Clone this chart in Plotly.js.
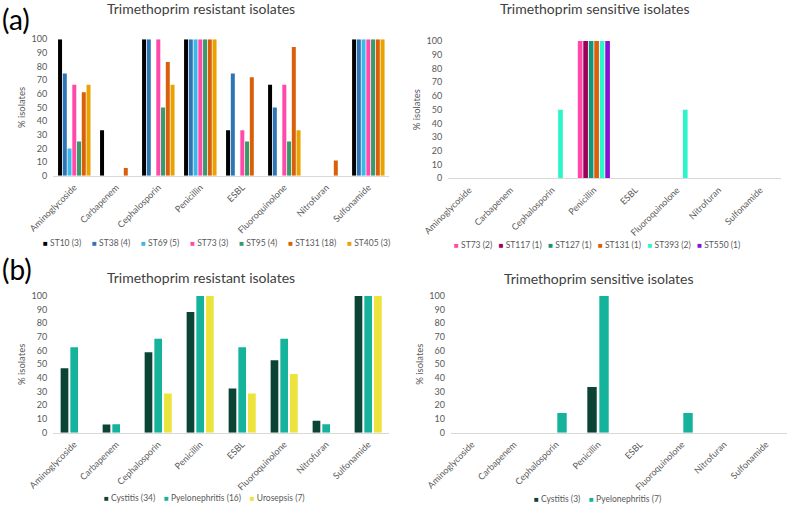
<!DOCTYPE html>
<html>
<head>
<meta charset="utf-8">
<script src="https://cdn.plot.ly/plotly-3.0.1.min.js"></script>
<style>html,body{margin:0;padding:0;background:#fff;}#chart{width:787px;height:505px;}</style>
</head>
<body>
<div id="chart"></div>
<script>
// ---------- data ----------
const categories = ['Aminoglycoside','Carbapenem','Cephalosporin','Penicillin','ESBL','Fluoroquinolone','Nitrofuran','Sulfonamide'];
const yTicks = [0,10,20,30,40,50,60,70,80,90,100];

// (a) Trimethoprim resistant isolates, by sequence type
const aResNames = ['ST10 (3)','ST38 (4)','ST69 (5)','ST73 (3)','ST95 (4)','ST131 (18)','ST405 (3)'];
const aResColors = ['#000000','#2e75b6','#3fb6e8','#ff4aa9','#369a6b','#d95f0b','#e9a200'];
const st10R  = [100, 33.3, 100, 100, 33.3, 66.7, 0, 100];
const st38R  = [75, 0, 100, 100, 75, 50, 0, 100];
const st69R  = [20, 0, 0, 100, 0, 0, 0, 100];
const st73R  = [66.7, 0, 100, 100, 33.3, 66.7, 0, 100];
const st95R  = [25, 0, 50, 100, 25, 25, 0, 100];
const st131R = [61.1, 5.6, 83.3, 100, 72.2, 94.4, 11.1, 100];
const st405R = [66.7, 0, 66.7, 100, 0, 33.3, 0, 100];

// (a) Trimethoprim sensitive isolates, by sequence type
const aSenNames = ['ST73 (2)','ST117 (1)','ST127 (1)','ST131 (1)','ST393 (2)','ST550 (1)'];
const aSenColors = ['#ff4aa9','#9c0058','#14967a','#d95f0b','#2cf5c9','#8b10d4'];
const st73S  = [0, 0, 0, 100, 0, 0, 0, 0];
const st117S = [0, 0, 0, 100, 0, 0, 0, 0];
const st127S = [0, 0, 0, 100, 0, 0, 0, 0];
const st131S = [0, 0, 0, 100, 0, 0, 0, 0];
const st393S = [0, 0, 50, 100, 0, 50, 0, 0];
const st550S = [0, 0, 0, 100, 0, 0, 0, 0];

// (b) by clinical syndrome
const bResNames = ['Cystitis (34)','Pyelonephritis (16)','Urosepsis (7)'];
const bResColors = ['#0b4434','#15b39c','#ede33d'];
const cystitisR = [47.1, 5.9, 58.8, 88.2, 32.4, 52.9, 8.8, 100];
const pyeloR    = [62.5, 6.25, 68.75, 100, 62.5, 68.75, 6.25, 100];
const urosepR   = [0, 0, 28.6, 100, 28.6, 42.9, 0, 100];

const bSenNames = ['Cystitis (3)','Pyelonephritis (7)'];
const bSenColors = ['#0b4434','#15b39c'];
const cystitisS = [0, 0, 0, 33.3, 0, 0, 0, 0];
const pyeloS    = [0, 0, 14.3, 100, 0, 14.3, 0, 0];

// ---------- build ----------
const FONT = 'Lato, "Open Sans", sans-serif';
const GRAY = '#595959';
const panels = [
  {names: aResNames, colors: aResColors, series: [st10R, st38R, st69R, st73R, st95R, st131R, st405R], slot: 0.113, bar: 0.095, ax: ''},
  {names: aSenNames, colors: aSenColors, series: [st73S, st117S, st127S, st131S, st393S, st550S], slot: 0.132, bar: 0.112, ax: '2'},
  {names: bResNames, colors: bResColors, series: [cystitisR, pyeloR, urosepR], slot: 0.231, bar: 0.183, ax: '3'},
  {names: bSenNames, colors: bSenColors, series: [cystitisS, pyeloS], slot: 0.286, bar: 0.224, ax: '4'}
];

const traces = [];
panels.forEach(p => {
  const n = p.series.length;
  p.series.forEach((vals, i) => {
    traces.push({
      type: 'bar',
      x: categories,
      y: vals,
      name: p.names[i],
      marker: {color: p.colors[i], line: {width: 0}},
      width: p.bar,
      offset: -n * p.slot / 2 + i * p.slot + (p.slot - p.bar) / 2,
      xaxis: 'x' + p.ax,
      yaxis: 'y' + p.ax,
      showlegend: false,
      hoverinfo: 'x+y+name'
    });
  });
});

function xaxis(domain, anchor) {
  return {
    domain: domain, anchor: anchor, type: 'category',
    categoryorder: 'array', categoryarray: categories,
    range: [-0.5, 7.5], tickangle: -45,
    showline: true, linecolor: '#d9d9d9', linewidth: 1,
    showgrid: false, zeroline: false, ticks: '', ticklabelstandoff: 2,
    tickfont: {family: FONT, size: 9, color: GRAY}
  };
}
function yaxis(domain, anchor) {
  return {
    domain: domain, anchor: anchor, range: [0, 100],
    tickmode: 'array', tickvals: yTicks, ticktext: yTicks.map(String),
    showline: false, showgrid: false, zeroline: false, ticks: '', ticklabelstandoff: 5,
    tickfont: {family: FONT, size: 9, color: GRAY},
    title: {text: '% isolates', font: {family: FONT, size: 9.5, color: GRAY}, standoff: 4}
  };
}

function legendText(names, colors, gap) {
  return names.map((nm, i) => '<span style="color:' + colors[i] + ';font-size:8px">\u25A0</span>\u00a0' + nm).join('\u00a0'.repeat(gap));
}

const titleFont = {family: FONT, size: 14, color: '#404040'};
const legFont = {family: FONT, size: 8.5, color: GRAY};

const layout = {
  width: 787, height: 505,
  margin: {l: 0, r: 0, t: 0, b: 0},
  paper_bgcolor: '#ffffff', plot_bgcolor: '#ffffff',
  barmode: 'group',
  showlegend: false,
  font: {family: FONT},
  xaxis:  xaxis([0.0677, 0.4947], 'y'),
  yaxis:  yaxis([0.6521, 0.9222], 'x'),
  xaxis2: xaxis([0.5696, 0.9924], 'y2'),
  yaxis2: yaxis([0.6469, 0.9188], 'x2'),
  xaxis3: xaxis([0.0676, 0.4945], 'y3'),
  yaxis3: yaxis([0.1432, 0.4139], 'x3'),
  xaxis4: xaxis([0.5731, 1.0], 'y4'),
  yaxis4: yaxis([0.1432, 0.4145], 'x4'),
  annotations: [
    {text: '(a)', x: 0.0, y: 1.0, xref: 'paper', yref: 'paper', xanchor: 'left', yanchor: 'top', showarrow: false, font: {family: FONT, size: 28, color: '#000'}},
    {text: '(b)', x: 0.0, y: 0.505, xref: 'paper', yref: 'paper', xanchor: 'left', yanchor: 'top', showarrow: false, font: {family: FONT, size: 28, color: '#000'}},
    {text: 'Trimethoprim resistant isolates', x: 201/787, y: 1 - 8/505, xref: 'paper', yref: 'paper', xanchor: 'center', yanchor: 'middle', showarrow: false, font: titleFont},
    {text: 'Trimethoprim sensitive isolates', x: 595/787, y: 1 - 8/505, xref: 'paper', yref: 'paper', xanchor: 'center', yanchor: 'middle', showarrow: false, font: titleFont},
    {text: 'Trimethoprim resistant isolates', x: 201/787, y: 1 - 277/505, xref: 'paper', yref: 'paper', xanchor: 'center', yanchor: 'middle', showarrow: false, font: titleFont},
    {text: 'Trimethoprim sensitive isolates', x: 599/787, y: 1 - 278/505, xref: 'paper', yref: 'paper', xanchor: 'center', yanchor: 'middle', showarrow: false, font: titleFont},
    {text: legendText(aResNames, aResColors, 5), x: 216/787, y: 1 - 243/505, xref: 'paper', yref: 'paper', xanchor: 'center', yanchor: 'middle', showarrow: false, font: legFont},
    {text: legendText(aSenNames, aSenColors, 3), x: 597/787, y: 1 - 245/505, xref: 'paper', yref: 'paper', xanchor: 'center', yanchor: 'middle', showarrow: false, font: legFont},
    {text: legendText(bResNames, bResColors, 4), x: 204/787, y: 1 - 498/505, xref: 'paper', yref: 'paper', xanchor: 'center', yanchor: 'middle', showarrow: false, font: legFont},
    {text: legendText(bSenNames, bSenColors, 4), x: 597/787, y: 1 - 499/505, xref: 'paper', yref: 'paper', xanchor: 'center', yanchor: 'middle', showarrow: false, font: legFont}
  ]
};

Plotly.newPlot('chart', traces, layout, {staticPlot: true, displayModeBar: false});
</script>
</body>
</html>
